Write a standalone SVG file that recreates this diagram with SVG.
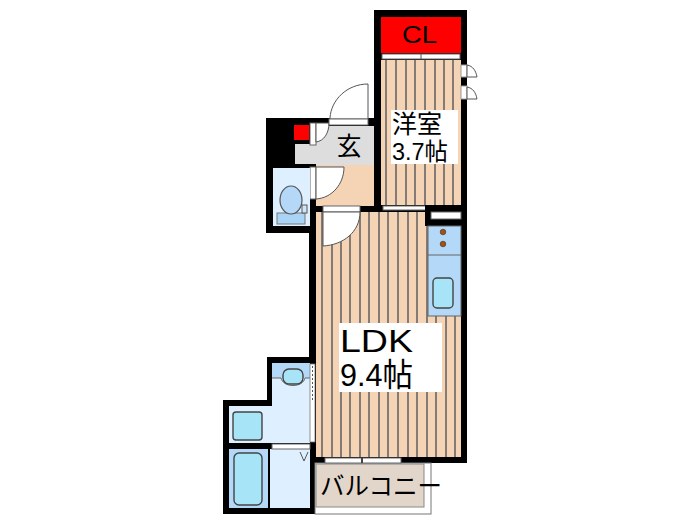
<svg xmlns="http://www.w3.org/2000/svg" width="700" height="525" viewBox="0 0 700 525">
<style>
.w{fill:#000}
.f{fill:#f5d3b5}
.l{stroke:#5f5f5f;stroke-width:1.5;fill:none}
.s{stroke:#666;stroke-width:1;fill:#fff}
.d{stroke:#555;stroke-width:1;fill:#fff}
.e{stroke:#444;stroke-width:1.4;fill:#a8e4f8}
.t{font-family:"Liberation Sans","Noto Sans CJK JP",sans-serif;fill:#000}
.j{font-family:"Noto Sans CJK JP","Liberation Sans",sans-serif;fill:#000}
</style>
<rect width="700" height="525" fill="#fff"/>
<g id="walls">
<rect class="w" x="374" y="10" width="93" height="196"/>
<rect class="w" x="266" y="118" width="115" height="115"/>
<rect class="w" x="309" y="200" width="158" height="263"/>
<rect class="w" x="267" y="357" width="48" height="157"/>
<rect class="w" x="223" y="400" width="92" height="114"/>
</g>
<g id="closet">
<rect x="381" y="17" width="80" height="36" fill="#f00"/>
<text class="t" x="402" y="43" font-size="23" textLength="35" lengthAdjust="spacingAndGlyphs">CL</text>
<rect class="s" x="382" y="54" width="78" height="5"/>
<line x1="421" y1="54" x2="421" y2="59" stroke="#555"/>
</g>
<g id="room">
<rect class="f" x="381" y="60" width="80" height="145"/>
<path class="l" d="M386 60V205M396 60V205M406 60V205M415 60V205M425 60V205M435 60V205M444 60V205M453 60V205"/>
<rect x="391" y="110" width="67" height="54" fill="#fff"/>
<text class="j" x="392" y="133" font-size="25">洋室</text>
<text class="t" x="392" y="160" font-size="24" textLength="56" lengthAdjust="spacingAndGlyphs">3.7<tspan font-family="Noto Sans CJK JP">帖</tspan></text>
<rect class="s" x="383" y="206" width="76" height="4"/>
</g>
<g id="entry">
<rect x="294" y="125" width="15" height="15" fill="#f00"/>
<rect x="316" y="126" width="58" height="39" fill="#ddd"/>
<rect x="295" y="144" width="36" height="20" fill="#ddd"/>
<rect x="316" y="165" width="58" height="41" fill="#f5d3b5"/>
<rect class="s" x="310" y="123" width="6" height="22"/>
<rect class="s" x="310" y="167" width="6" height="32"/>
<path class="d" d="M316 123H329C329 133 324 141 316 142Z"/>
<path class="d" d="M316 167H344C344 184 332 198 316 199Z"/>
<path class="d" d="M330 118V119H368V84C347 84 331 100 330 118Z"/>
<rect class="s" x="329" y="119" width="39" height="6"/>
<text class="j" x="349" y="155" font-size="25" text-anchor="middle">玄</text>
</g>
<g id="toilet">
<rect x="273" y="168" width="37" height="58" fill="#def0ff"/>
<rect x="277" y="213" width="28" height="11" fill="#a9d4f5" stroke="#777"/>
<ellipse cx="291" cy="200" rx="11" ry="14" fill="#b5d8f8" stroke="#555" stroke-width="1.200"/>
<rect x="302" y="205" width="5" height="8" fill="#cfe6f8" stroke="#555"/>
</g>
<g id="ldk">
<rect class="f" x="316" y="212" width="145" height="245"/>
<path class="l" d="M322 212V457M332 212V457M341 212V457M350 212V457M360 212V457M369 212V457M379 212V457M388 212V457M398 212V457M408 212V457M417 212V457M427 212V457M436 212V457M446 212V457M455 212V457"/>
<rect x="339" y="323" width="103" height="69" fill="#fff"/>
<text class="t" x="340" y="352" font-size="32" textLength="73" lengthAdjust="spacingAndGlyphs">LDK</text>
<text class="t" x="340" y="386" font-size="32" textLength="73" lengthAdjust="spacingAndGlyphs">9.4<tspan font-family="Noto Sans CJK JP">帖</tspan></text>
<rect class="s" x="323" y="206" width="37" height="6"/>
<path class="d" d="M323 212H360C360 232 343 245 323 246Z"/>
</g>
<g id="kitchen">
<rect class="w" x="425" y="205" width="42" height="21"/>
<rect class="s" x="431" y="212" width="30" height="7"/>
<rect x="428" y="226" width="33" height="90" fill="#b3d8f8" stroke="#666"/>
<line x1="428" y1="255" x2="461" y2="255" stroke="#666"/>
<circle cx="443" cy="232" r="2.800" fill="#a65012" stroke="#333" stroke-width=".6"/>
<circle cx="443" cy="244" r="2.800" fill="#a65012" stroke="#333" stroke-width=".6"/>
<rect class="e" x="433" y="278" width="20" height="30" rx="4"/>
</g>
<g id="closet-doors">
<rect x="461" y="65" width="6" height="12" fill="#fff" stroke="#999"/>
<path d="M467 65C473 66 476 71 477 77H467Z" fill="#fff" stroke="#555"/>
<rect x="461" y="86" width="6" height="13" fill="#fff" stroke="#999"/>
<path d="M467 87C473 88 476 93 477 99H467Z" fill="#fff" stroke="#555"/>
</g>
<g id="bath">
<rect x="272" y="363" width="38" height="145" fill="#def0ff"/>
<rect x="229" y="406" width="81" height="37" fill="#def0ff"/>
<rect x="272" y="363" width="38" height="15" fill="#b3d8f8"/>
<path d="M272 378H281C283 388 303 388 305 378H310" fill="#def0ff" stroke="#666"/>
<rect class="e" x="283" y="369" width="20" height="15" rx="6"/>
<rect class="e" x="233" y="412" width="29" height="28" rx="3"/>
<rect class="w" x="229" y="443" width="81" height="6"/>
<rect x="229" y="449" width="39" height="59" fill="#b3d8f8"/>
<rect x="270" y="449" width="40" height="59" fill="#def0ff"/>
<rect class="w" x="268" y="443" width="2" height="65"/>
<rect class="e" x="234" y="453" width="28" height="52" rx="5"/>
<rect class="s" x="272" y="444" width="38" height="5"/>
<path d="M300 452L304 461L308 452" fill="none" stroke="#555"/>
<rect x="310" y="364" width="5" height="78" fill="#fff" stroke="#777" stroke-width=".8"/>
<path d="M312.500 366V402" stroke="#555" stroke-dasharray="2 2"/>
</g>
<g id="balcony">
<rect x="315" y="463" width="116" height="51" fill="#fff" stroke="#777"/>
<rect x="316" y="464" width="108" height="43" fill="#e2d5c9" stroke="#888"/>
<rect x="325" y="458" width="76" height="5" fill="#fff" stroke="#666"/>
<line x1="362" y1="458" x2="362" y2="463" stroke="#444" stroke-width="2"/>
<text class="j" x="320" y="495" font-size="25" textLength="122" lengthAdjust="spacingAndGlyphs">バルコニー</text>
</g>
</svg>
